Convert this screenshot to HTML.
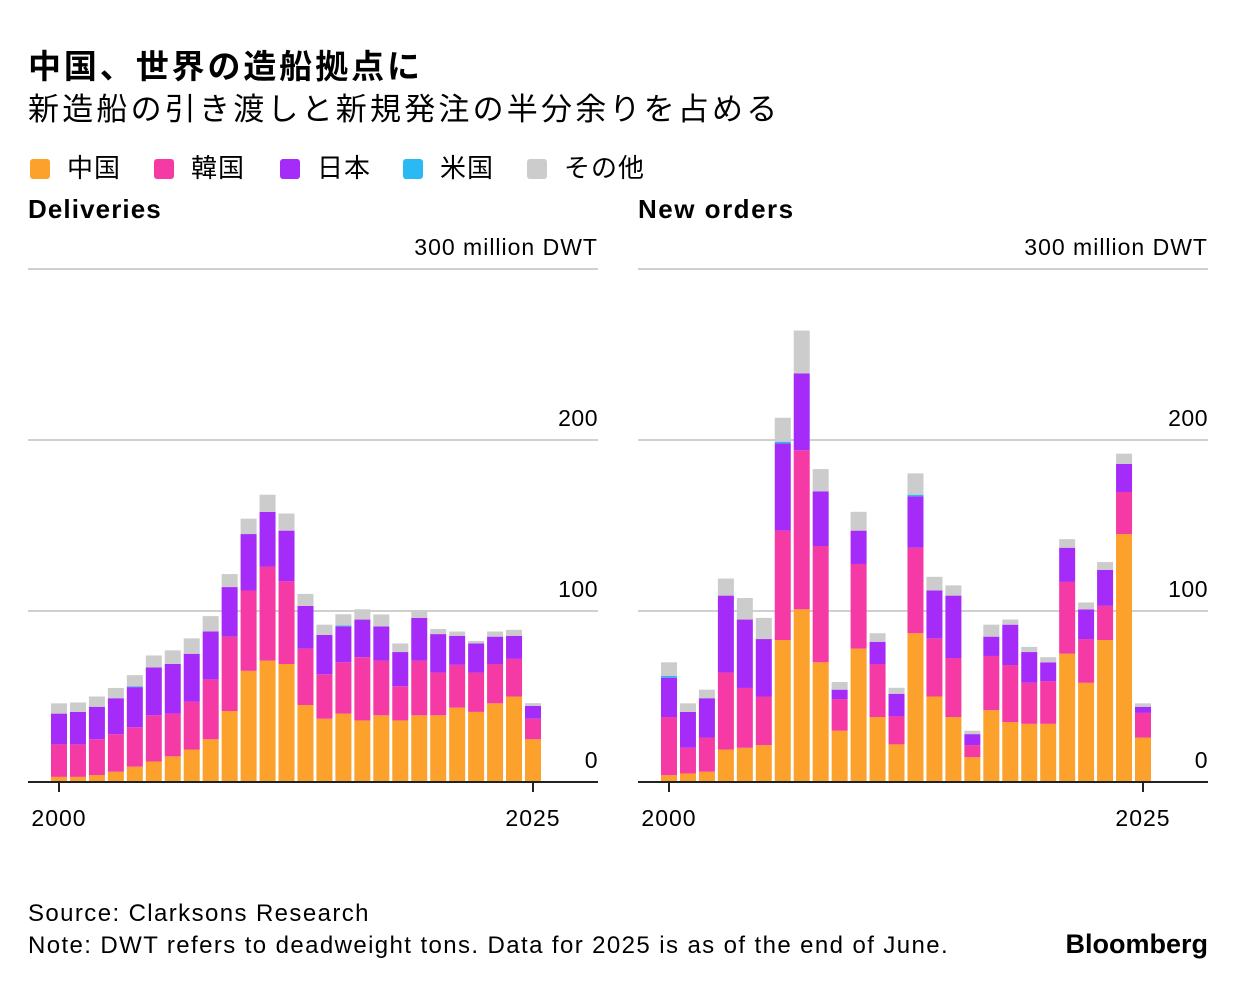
<!DOCTYPE html>
<html><head><meta charset="utf-8">
<style>
body{margin:0;background:#fff;width:1237px;height:988px;overflow:hidden;font-family:"Liberation Sans","Noto Sans CJK JP",sans-serif;color:#000}
.t{position:absolute;white-space:nowrap}
</style></head><body>
<div class="t" style="left:28px;top:40px;font-size:33px;font-weight:bold;letter-spacing:2.9px">中国、世界の造船拠点に</div>
<div class="t" style="left:28px;top:84px;font-size:31px;letter-spacing:3.2px">新造船の引き渡しと新規発注の半分余りを占める</div>
<div id="legend" style="position:absolute;left:30px;top:148px;height:34px;font-size:26px;letter-spacing:1px"></div>
<div class="t" style="left:28px;top:194px;font-size:26px;font-weight:bold;letter-spacing:1.1px">Deliveries</div>
<div class="t" style="left:638px;top:194px;font-size:26px;font-weight:bold;letter-spacing:1.5px">New orders</div>
<svg id="chart" width="1237" height="988" style="position:absolute;left:0;top:0"></svg>
<div class="t" style="left:28px;top:900px;font-size:24px;letter-spacing:1.4px">Source: Clarksons Research</div>
<div class="t" style="left:28px;top:932px;font-size:24px;letter-spacing:1.4px">Note: DWT refers to deadweight tons. Data for 2025 is as of the end of June.</div>
<div class="t" style="right:29px;top:929px;font-size:27px;font-weight:bold">Bloomberg</div>
<script>
const years=[2000,2001,2002,2003,2004,2005,2006,2007,2008,2009,2010,2011,2012,2013,2014,2015,2016,2017,2018,2019,2020,2021,2022,2023,2024,2025];
const seriesNames=["中国","韓国","日本","米国","その他"];
const seriesColors=["#fba12c","#f53aa5","#a52cf8","#2ab9f3","#cccccc"];
const delChina=[3,3,4,6,9,12,15,19,25,41.5,65,71,69,45,37,40,36,39,36,39,39,43.5,41,46,50,25];
const delKorea=[19,19,21,22,23,27,25,28,35,43.5,47,55,48.5,33,26,30,37,32,20,32,25,25,23,23,22,12];
const delJapan=[18,19,19,21,23.5,28,29,28,28,29,33,32,29.5,25,23,21,22,20,20,25,22.5,17,17,16,13.5,7.5];
const delUS=[0,0,0,0,0.5,0,0,0,0,0,0,0,0,0,0,0.5,0,0,0,0,0,0,0,0,0,0];
const delOther=[6,5.5,6,6,6.5,7,8,9,9,7.6,9,10,10,7,6,6.6,6,7,5,4.6,3,2.5,1.5,3,3.5,1.6];
const ordChina=[4,5,6,19,20,21.6,83,101,70,30,78,38,22,87,50,38,14.6,42,35,34,34,75,58,83,145,26];
const ordKorea=[34,15,20,45,35,28.4,64,93,68,18.5,49.5,31,16.6,50,34,34.5,7,31.7,33.4,24,25,42,25.6,20,24.6,14.4];
const ordJapan=[23,21,23,45,40,33.6,51,45,32,5.5,19.5,13,13,30,28,36.5,6.4,11.3,23.6,18,11,20,17.4,21,16.4,3.6];
const ordUS=[1,0,0,0,0,0,1,0,0,0,0,0,0,1,0,0,0,0,0,0,0,0,0,0,0,0];
const ordOther=[8,5,5,10,12.6,12.4,14,25,13,4.5,11,5,3.5,12.5,8,6,2,7,3,3,3,5,4,4.6,6,2];
const yTicks=[0,100,200,300];

const NS="http://www.w3.org/2000/svg";
const svg=document.getElementById('chart');
function mk(tag,attrs,parent){const e=document.createElementNS(NS,tag);for(const k in attrs)e.setAttribute(k,attrs[k]);(parent||svg).appendChild(e);return e;}

const lg=document.getElementById('legend');
const lgX=[0,124,250,373,497];
seriesNames.forEach((n,i)=>{
  const d=document.createElement('div');
  
  
  d.style.cssText='position:absolute;top:0;left:'+lgX[i]+'px;white-space:nowrap';
  d.innerHTML='<span style="display:inline-block;width:20px;height:20px;border-radius:3px;background:'+seriesColors[i]+';vertical-align:-2px;margin-right:17px"></span>'+n;
  lg.appendChild(d);
});

function panel(x0,width,stacks,name){
  const g=mk('g',{});
  
  
  const y0=782, pxPer=1.71;
  const yS=v=>y0-v*pxPer;
  const xS=yr=>x0+31+(yr-2000)*18.96;
  yTicks.forEach(t=>{
    if(t>0){const l=mk('line',{x1:x0,x2:x0+width,y1:yS(t),y2:yS(t),stroke:'#d0d0d0','stroke-width':2},g);
      }
    const tx=mk('text',{x:x0+width,y:yS(t)-14,'text-anchor':'end','font-size':23,'letter-spacing':t===300?1:0.5,'font-family':'Liberation Sans, sans-serif'},g);
    
    tx.textContent=t===300?'300 million DWT':String(t);
  });
  years.forEach((yr,i)=>{
    let cum=0;
    stacks.forEach((arr,s)=>{
      const v=arr[i]; if(!v)return;
      const r=mk('rect',{x:xS(yr)-8,width:16,y:yS(cum+v),height:v*pxPer,fill:seriesColors[s]},g);
      
      cum+=v;
    });
  });
  const ax=mk('line',{x1:x0,x2:x0+width,y1:y0,y2:y0,stroke:'#222','stroke-width':2},g);
  
  [2000,2025].forEach(yr=>{
    const tk=mk('line',{x1:xS(yr),x2:xS(yr),y1:y0,y2:y0+10,stroke:'#222','stroke-width':2},g);
    
    const tl=mk('text',{x:xS(yr),y:826,'text-anchor':'middle','font-size':23,'letter-spacing':1,'font-family':'Liberation Sans, sans-serif'},g);
    
    tl.textContent=yr;
  });
}
panel(28,570,[delChina,delKorea,delJapan,delUS,delOther],'deliveries-chart');
panel(638,570,[ordChina,ordKorea,ordJapan,ordUS,ordOther],'new-orders-chart');
</script>
</body></html>
